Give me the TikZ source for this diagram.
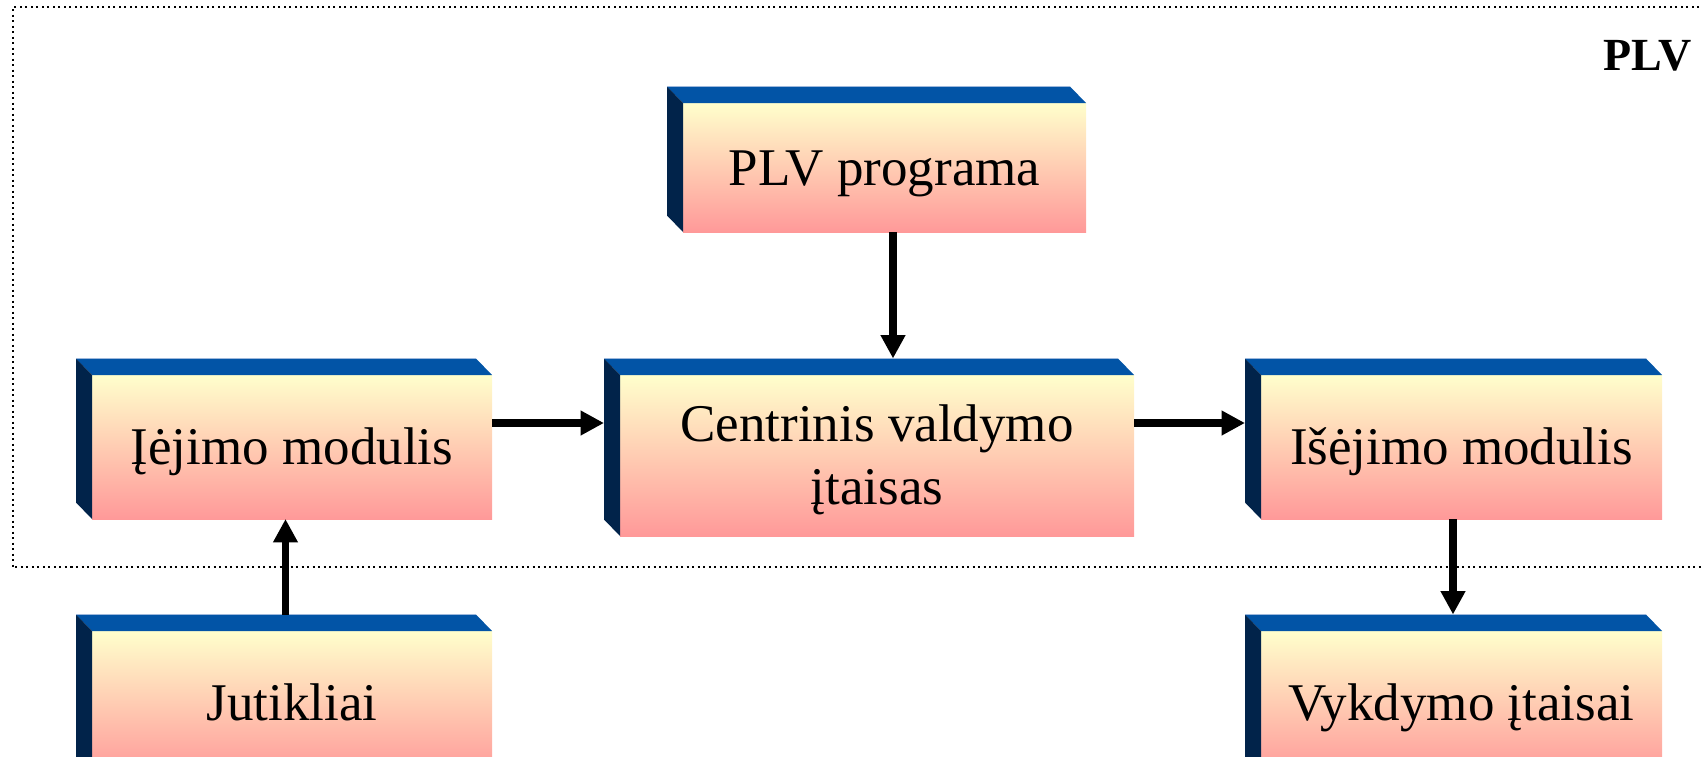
\documentclass[tikz,border=0pt]{standalone}
\usepackage{fontspec}
\setmainfont{Liberation Serif}
\usetikzlibrary{arrows.meta,calc}
\definecolor{topblue}{HTML}{0254A6}
\definecolor{sidenavy}{HTML}{01234A}
\definecolor{facetop}{HTML}{FFFFCC}
\definecolor{facebot}{HTML}{FF9999}
\definecolor{edgehi}{HTML}{9DB8DC}
\newcommand\pstrut{\rule[-0.216em]{0pt}{1.107em}}
\begin{document}
\begin{tikzpicture}[x=0.5pt,y=-0.5pt,
  front/.style={draw=none, inner sep=0pt, outer sep=0pt, top color=facetop, bottom color=facebot,
    font=\fontsize{26.5pt}{31.5pt}\selectfont, align=center},
  arr/.style={line width=3.7pt, -{Triangle[width=11.7pt,length=11.7pt]}},
  frame/.style={line width=1pt, dash pattern=on 1pt off 1.75pt},
  toplabel/.style={font=\fontsize{23pt}{23pt}\selectfont\bfseries, anchor=base east, inner sep=0pt}
]
\useasboundingbox (0,0) rectangle (1701,756);

% PLV frame (open on the right, runs off the picture)
\draw[frame] (1710,7) -- (12.5,7) -- (12.5,567) -- (1710,567);
\node[toplabel] (plvlbl) at (1692,70) {PLV};

% front faces
\node[front, minimum width=201.5pt, minimum height=64.5pt] (plv) at (884.5,167.5) {\pstrut PLV programa};
\node[front, minimum width=200pt, minimum height=72pt] (ieg) at (292,447) {\pstrut Įėjimo modulis};
\node[front, minimum width=257pt, minimum height=80.5pt] (cen) at (877,455.5) {\pstrut Centrinis valdymo\\\pstrut įtaisas};
\node[front, minimum width=200.5pt, minimum height=72pt] (ise) at (1461.5,447) {\pstrut Išėjimo modulis};
\node[front, minimum width=200pt, minimum height=72pt] (jut) at (292,703) {\pstrut Jutikliai};
\node[front, minimum width=200.5pt, minimum height=72pt] (vyk) at (1461.5,703) {\pstrut Vykdymo įtaisai};

% 3D top and side faces
\foreach \n in {plv,ieg,cen,ise,jut,vyk}{
  \fill[topblue] (\n.north west) -- ++(-16,-16.5) -- ($(\n.north east)+(-16,-16.5)$) -- (\n.north east) -- cycle;
  \fill[sidenavy] (\n.north west) -- ++(-16,-16.5) -- ($(\n.south west)+(-16,-16.5)$) -- (\n.south west) -- cycle;
  \draw[edgehi, line width=0.5pt] ($(\n.north west)+(-16,-16.5)$) -- ($(\n.north east)+(-16,-16.5)$);
}

% connector end points
\coordinate (cenT) at ($(cen.north)+(0,-16.5)$);
\coordinate (cenL) at ($(cen.west)+(-16,0)$);
\coordinate (iseL) at ($(ise.west)+(-16,0)$);
\coordinate (vykT) at ($(vyk.north)+(0,-16.5)$);
\coordinate (a1s) at ($(plv.south)+(8.5,0)$);
\coordinate (a2s) at ($(ieg.east)+(0,-24)$);
\coordinate (a3s) at ($(cen.east)+(0,-32.5)$);
\coordinate (a4s) at ($(jut.north)+(-6.5,-16.5)$);
\coordinate (a5s) at ($(ise.south)+(-8.5,0)$);

% connectors
\draw[arr] (a1s) -- (a1s |- cenT);
\draw[arr] (a2s) -- (a2s -| cenL);
\draw[arr] (a3s) -- (a3s -| iseL);
\draw[arr] (a4s) -- (a4s |- ieg.south);
\draw[arr] (a5s) -- (a5s |- vykT);
\end{tikzpicture}
\end{document}
